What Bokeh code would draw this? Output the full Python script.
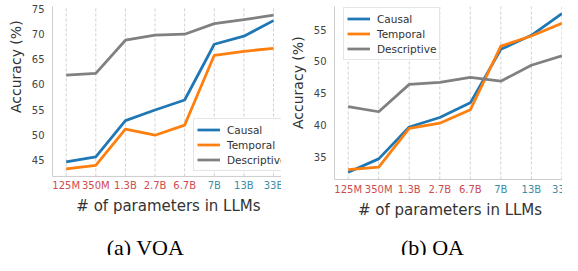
from bokeh.plotting import figure
from bokeh.models import Range1d, FixedTicker, Title, Span, Label
from bokeh.core.properties import value
from bokeh.layouts import row
from bokeh.embed import file_html
from bokeh.resources import INLINE

# ---------------- data ----------------
models = ["125M", "350M", "1.3B", "2.7B", "6.7B", "7B", "13B", "33B"]
n_first_group = 5  # first five model sizes share one label colour

vqa_causal = [44.6, 45.6, 52.8, 54.9, 56.9, 68.0, 69.6, 72.7]
vqa_temporal = [43.2, 43.9, 51.1, 49.9, 51.9, 65.8, 66.6, 67.2]
vqa_descriptive = [61.85, 62.2, 68.8, 69.8, 70.0, 72.1, 72.9, 73.8]

qa_causal = [32.6, 34.7, 39.7, 41.2, 43.5, 51.9, 54.1, 57.5]
qa_temporal = [33.0, 33.4, 39.5, 40.3, 42.4, 52.4, 54.0, 56.0]
qa_descriptive = [42.9, 42.1, 46.4, 46.7, 47.5, 46.9, 49.4, 50.9]

vqa_yticks = [45, 50, 55, 60, 65, 70, 75]
qa_yticks = [35, 40, 45, 50, 55]

series_names = ["Causal", "Temporal", "Descriptive"]
series_colors = ["#1f77b4", "#ff7f0e", "#808080"]

SANS = "DejaVu Sans"
SERIF = "Liberation Serif"
RED = "#cf4a4f"
TEAL = "#3d8ca6"
SPINE = "#cccccc"
FIG_W, FIG_H = 281, 255


def panel(series, floor, top, yticks, xr, caption, min_left, min_top, data_px,
          xlabel_px, caption_px, caption_dx, ylab_offset, legend_xy):
    frame_w = FIG_W - min_left
    frame_h = FIG_H - min_top
    per_px = (top - floor) / data_px
    ystart = floor - (frame_h - data_px) * per_px   # frame reaches to figure bottom
    xpp = (xr[1] - xr[0]) / frame_w
    p = figure(width=FIG_W, height=FIG_H, x_range=Range1d(*xr),
               y_range=Range1d(ystart, top), x_axis_location=None,
               output_backend="svg", toolbar_location=None,
               min_border_left=min_left, min_border_right=0,
               min_border_top=min_top, min_border_bottom=0)
    p.outline_line_color = None
    p.xgrid.visible = False
    p.ygrid.visible = False
    xs = list(range(len(models)))
    n = len(xs)

    # dashed vertical grid lines at each model size
    p.segment(x0=xs, y0=[floor] * n, x1=xs, y1=[top] * n, line_color="#d0d0d0",
              line_width=1, line_dash="3 2")
    # bottom spine
    p.add_layout(Span(location=floor, dimension="width", line_color=SPINE, line_width=1))

    for vals, name, col in zip(series, series_names, series_colors):
        p.line(xs, vals, line_width=2.75, color=col, legend_label=name)

    # x tick labels (two colour groups)
    colors = [RED if i < n_first_group else TEAL for i in xs]
    p.text(x=xs, y=[floor] * n, text=models, text_color=colors, y_offset=4,
           text_align="center", text_baseline="top", text_font=value(SANS),
           text_font_size="10px")

    # x axis title
    p.add_layout(Label(x=xr[0] + (frame_w / 2 + 1.5) * xpp, y=floor - xlabel_px * per_px,
                       text="# of parameters in LLMs", text_font=SANS,
                       text_font_size="15px", text_color="#333333",
                       text_align="center", text_baseline="middle"))
    # sub-figure caption
    p.add_layout(Label(x=xr[0] + caption_dx * xpp, y=floor - caption_px * per_px,
                       text=caption, text_font=SERIF, text_font_size="22px",
                       text_color="black", text_align="center",
                       text_baseline="alphabetic"))

    ya = p.yaxis[0]
    ya.ticker = FixedTicker(ticks=yticks)
    ya.bounds = (floor, top)
    ya.axis_line_color = SPINE
    ya.axis_line_width = 1
    ya.major_tick_line_color = None
    ya.minor_tick_line_color = None
    ya.major_label_text_font = SANS
    ya.major_label_text_font_size = "10px"
    ya.major_label_text_color = "#444444"
    ya.major_label_standoff = 2

    p.add_layout(Title(text="Accuracy (%)", align="left", offset=ylab_offset,
                       text_font=SANS, text_font_size="14px",
                       text_font_style="normal", text_color="#333333",
                       standoff=10), "left")

    leg = p.legend[0]
    leg.location = legend_xy
    leg.padding = 3
    leg.spacing = 0
    leg.glyph_width = 23
    leg.glyph_height = 15
    leg.label_height = 15
    leg.label_standoff = 7
    leg.label_text_font = SANS
    leg.label_text_font_size = "10.5px"
    leg.label_text_color = "#333333"
    leg.border_line_color = SPINE
    leg.border_line_width = 1
    leg.background_fill_alpha = 0.85
    return p


left = panel([vqa_causal, vqa_temporal, vqa_descriptive], 41.69, 75.51, vqa_yticks,
             (-0.462, 7.27), "(a) VQA", min_left=42, min_top=3, data_px=172,
             xlabel_px=30, caption_px=72, caption_dx=97, ylab_offset=142.5,
             legend_xy=(141, 84))
right = panel([qa_causal, qa_temporal, qa_descriptive], 31.46, 58.63, qa_yticks,
              (-0.448, 7.02), "(b) QA", min_left=53, min_top=6, data_px=173,
              xlabel_px=30, caption_px=68, caption_dx=98, ylab_offset=126.5,
              legend_xy=(9, 195))

layout = row(left, right, spacing=0)
open("out.html", "w").write(file_html(layout, INLINE))
